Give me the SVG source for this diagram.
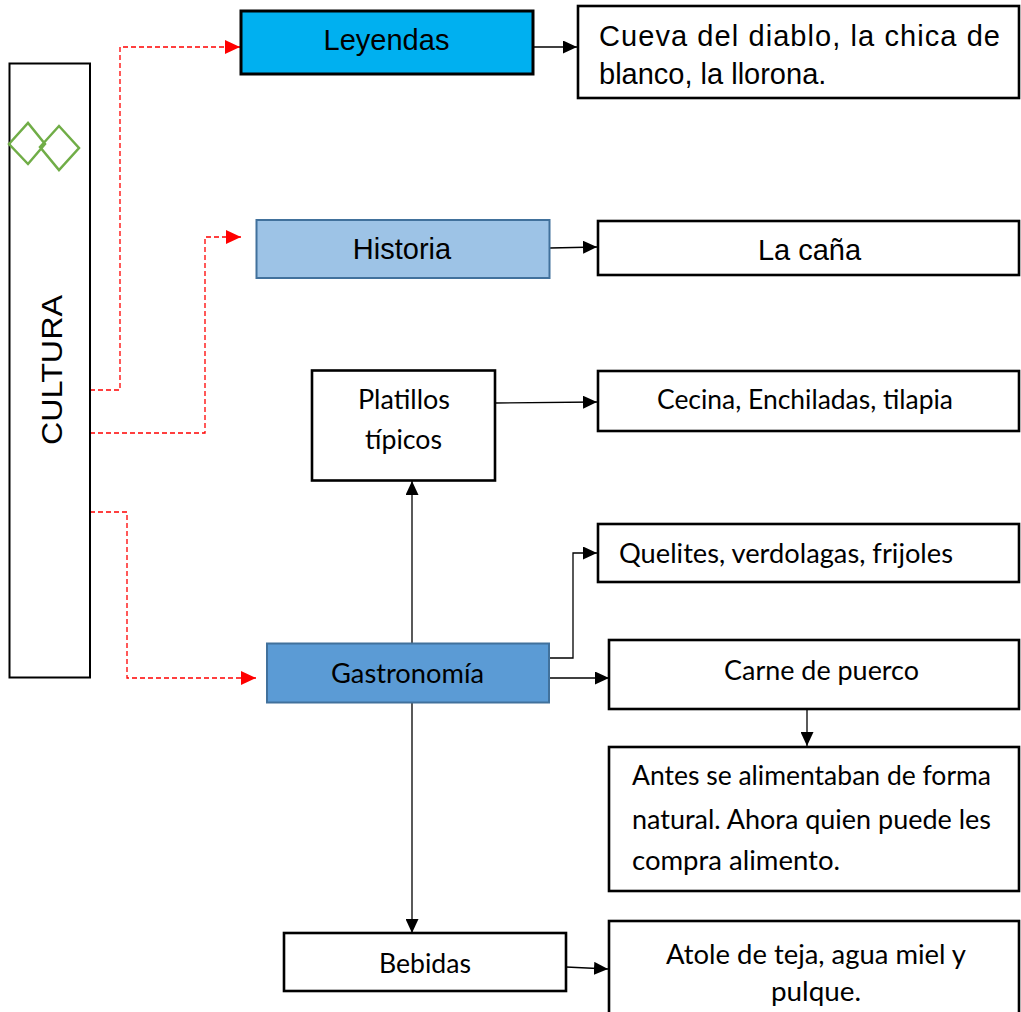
<svg xmlns="http://www.w3.org/2000/svg" width="1021" height="1012" viewBox="0 0 1021 1012">
<style>
.box{fill:#fff;stroke:#000;stroke-width:2.6}
.arial{font-family:"Liberation Sans",Arial,sans-serif;font-size:29px;fill:#000}
.cal{font-family:Lato,"Open Sans",sans-serif;font-size:27px;fill:#000}
.red{fill:none;stroke:#f00;stroke-width:1.3;stroke-dasharray:5 3}
.blk{fill:none;stroke:#000;stroke-width:1.3}
</style>
<defs>
<marker id="ar" markerUnits="userSpaceOnUse" markerWidth="16" markerHeight="14" refX="15" refY="7" orient="auto"><path d="M0,0 L15,7 L0,14 z" fill="#f00"/></marker>
<marker id="ab" markerUnits="userSpaceOnUse" markerWidth="15" markerHeight="13" refX="14" refY="6.5" orient="auto"><path d="M0,0 L14,6.5 L0,13 z" fill="#000"/></marker>
</defs>
<rect width="1021" height="1012" fill="#fff"/>
<g id="connectors">
<path class="red" d="M90,390 H120 V47 H240" marker-end="url(#ar)"/>
<path class="red" d="M90,433 H205 V237 H241" marker-end="url(#ar)"/>
<path class="red" d="M90,512 H127 V678 H256" marker-end="url(#ar)"/>
<path class="blk" d="M533,47 H577" marker-end="url(#ab)"/>
<path class="blk" d="M550,248 L597,247" marker-end="url(#ab)"/>
<path class="blk" d="M495,403 L597,402" marker-end="url(#ab)"/>
<path class="blk" d="M412,643 V481" marker-end="url(#ab)"/>
<path class="blk" d="M549,658 H573 V553 H597" marker-end="url(#ab)"/>
<path class="blk" d="M549,678 H609" marker-end="url(#ab)"/>
<path class="blk" d="M807,709 V746" marker-end="url(#ab)"/>
<path class="blk" d="M412,703 V933" marker-end="url(#ab)"/>
<path class="blk" d="M566,967 L608,969" marker-end="url(#ab)"/>
</g>
<g id="cultura">
<rect x="9.5" y="63.5" width="80.5" height="614" fill="#fff" stroke="#000" stroke-width="2"/>
<path d="M9,144 L28,123 L45,144 L28,164 z M40,147 L59,126 L79,148 L59,170 z" fill="none" stroke="#70AD47" stroke-width="2.5"/>
<text class="arial" font-size="35" transform="translate(61.5,370) rotate(-90)" text-anchor="middle" textLength="150" lengthAdjust="spacingAndGlyphs">CULTURA</text>
</g>
<g id="leyendas">
<rect x="241" y="11" width="292" height="63" fill="#00B0F0" stroke="#000" stroke-width="3"/>
<text class="arial" x="386.5" y="50" text-anchor="middle">Leyendas</text>
</g>
<g id="cueva">
<rect class="box" x="578" y="6" width="441" height="92"/>
<text class="arial" x="599" y="46" textLength="401">Cueva del diablo, la chica de</text>
<text class="arial" x="599" y="84">blanco, la llorona.</text>
</g>
<g id="historia">
<rect x="256.5" y="220" width="293" height="58" fill="#9DC3E6" stroke="#41719C" stroke-width="2"/>
<text class="arial" x="402" y="259" text-anchor="middle">Historia</text>
</g>
<g id="lacana">
<rect class="box" x="598" y="221" width="421" height="54"/>
<text class="arial" x="809.5" y="260" text-anchor="middle">La caña</text>
</g>
<g id="platillos">
<rect class="box" x="312" y="370.5" width="183" height="110"/>
<text class="cal" x="404" y="409" text-anchor="middle" textLength="92" lengthAdjust="spacingAndGlyphs">Platillos</text>
<text class="cal" x="403.5" y="449" text-anchor="middle" textLength="77" lengthAdjust="spacingAndGlyphs">típicos</text>
</g>
<g id="cecina">
<rect class="box" x="598" y="371" width="421" height="60"/>
<text class="cal" x="805" y="409" text-anchor="middle" textLength="296" lengthAdjust="spacingAndGlyphs">Cecina, Enchiladas, tilapia</text>
</g>
<g id="quelites">
<rect class="box" x="598" y="524" width="421" height="58"/>
<text class="cal" x="619" y="563" textLength="334" lengthAdjust="spacingAndGlyphs">Quelites, verdolagas, frijoles</text>
</g>
<g id="gastronomia">
<rect x="267" y="643.5" width="282" height="59" fill="#5B9BD5" stroke="#41719C" stroke-width="2"/>
<text class="cal" x="407.5" y="683" text-anchor="middle" textLength="153" lengthAdjust="spacingAndGlyphs">Gastronomía</text>
</g>
<g id="carne">
<rect class="box" x="609" y="640" width="410" height="69"/>
<text class="cal" x="821.5" y="680" text-anchor="middle" textLength="195" lengthAdjust="spacingAndGlyphs">Carne de puerco</text>
</g>
<g id="antes">
<rect class="box" x="609" y="747" width="410" height="144"/>
<text class="cal" x="632" y="785" textLength="359" lengthAdjust="spacingAndGlyphs">Antes se alimentaban de forma</text>
<text class="cal" x="632" y="829" textLength="359" lengthAdjust="spacingAndGlyphs">natural. Ahora quien puede les</text>
<text class="cal" x="632" y="870" textLength="208" lengthAdjust="spacingAndGlyphs">compra alimento.</text>
</g>
<g id="bebidas">
<rect class="box" x="284" y="933" width="282" height="58"/>
<text class="cal" x="425" y="973" text-anchor="middle" textLength="92" lengthAdjust="spacingAndGlyphs">Bebidas</text>
</g>
<g id="atole">
<rect class="box" x="609" y="921" width="410" height="100"/>
<text class="cal" x="816" y="964" text-anchor="middle" textLength="300" lengthAdjust="spacingAndGlyphs">Atole de teja, agua miel y</text>
<text class="cal" x="816" y="1001" text-anchor="middle" textLength="90" lengthAdjust="spacingAndGlyphs">pulque.</text>
</g>
</svg>
